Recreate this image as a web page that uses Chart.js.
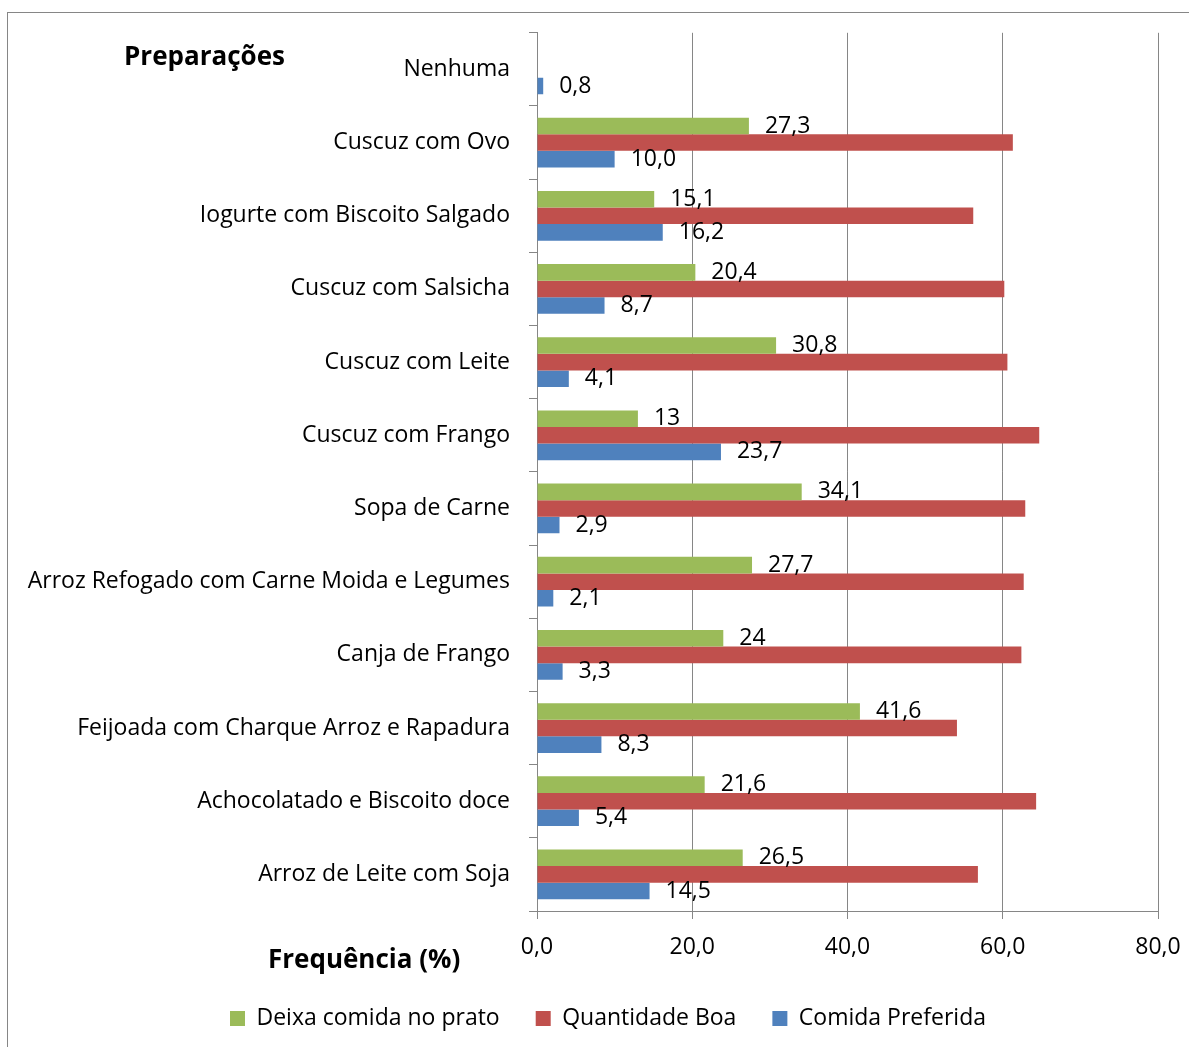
<!DOCTYPE html>
<html><head><meta charset="utf-8">
<script src="https://cdn.jsdelivr.net/npm/chart.js@4/dist/chart.umd.min.js"></script>
<style>
html,body{margin:0;padding:0;background:#fff;overflow:hidden}
#wrap{position:relative;width:1189px;height:1047px;overflow:hidden}
#frame{position:absolute;left:7px;top:12px;width:1300px;height:1200px;border:1px solid #868686;box-sizing:border-box}
canvas{position:absolute;left:0;top:0}
.t{position:absolute;font-family:'Open Sans';font-weight:bold;font-size:26px;line-height:36px;color:#000;white-space:nowrap}
</style></head>
<body><div id="wrap"><div id="frame"></div><canvas id="c" width="1189" height="1047"></canvas>
<div class="t" style="left:124px;top:37px">Preparações</div>
<div class="t" style="left:268px;top:940px">Frequência (%)</div>
</div>
<script>
const categories = [
  'Nenhuma',
  'Cuscuz com Ovo',
  'Iogurte com Biscoito Salgado',
  'Cuscuz com Salsicha',
  'Cuscuz com Leite',
  'Cuscuz com Frango',
  'Sopa de Carne',
  'Arroz Refogado com Carne Moida e Legumes',
  'Canja de Frango',
  'Feijoada com Charque Arroz e Rapadura',
  'Achocolatado e Biscoito doce',
  'Arroz de Leite com Soja'
];
const deixaComida     = [null, 27.3, 15.1, 20.4, 30.8, 13, 34.1, 27.7, 24, 41.6, 21.6, 26.5];
const quantidadeBoa   = [null, 61.3, 56.2, 60.2, 60.6, 64.7, 62.9, 62.7, 62.4, 54.1, 64.3, 56.8];
const comidaPreferida = [0.8, 10.0, 16.2, 8.7, 4.1, 23.7, 2.9, 2.1, 3.3, 8.3, 5.4, 14.5];
const xTicks = [0, 20, 40, 60, 80];
const seriesNames = ['Deixa comida no prato', 'Quantidade Boa', 'Comida Preferida'];

const FONT = 'Open Sans';
const FS = 23;

const valueLabels = {
  id: 'valueLabels',
  afterDatasetsDraw(chart) {
    const ctx = chart.ctx;
    ctx.save();
    ctx.font = FS + 'px "' + FONT + '"';
    ctx.fillStyle = '#000';
    ctx.textBaseline = 'middle';
    ctx.textAlign = 'left';
    chart.data.datasets.forEach((ds, i) => {
      if (!ds.fmt) return;
      chart.getDatasetMeta(i).data.forEach((el, j) => {
        const v = ds.data[j];
        if (v == null) return;
        ctx.fillText(ds.fmt(v), el.x + 16, el.y);
      });
    });
    ctx.restore();
  }
};

function draw() {
  new Chart(document.getElementById('c'), {
    type: 'bar',
    data: {
      labels: categories,
      datasets: [
        { label: seriesNames[0], data: deixaComida, backgroundColor: '#9BBB59',
          fmt: v => String(v).replace('.', ',') },
        { label: seriesNames[1], data: quantidadeBoa, backgroundColor: '#C0504D' },
        { label: seriesNames[2], data: comidaPreferida, backgroundColor: '#4F81BD',
          fmt: v => v.toFixed(1).replace('.', ',') }
      ]
    },
    options: {
      indexAxis: 'y',
      responsive: false,
      animation: false,
      devicePixelRatio: 1,
      datasets: { bar: { categoryPercentage: 0.68, barPercentage: 1.0, borderWidth: 0 } },
      layout: { padding: { top: 32, right: 0, left: 27, bottom: 7 } },
      scales: {
        x: {
          min: 0, max: 80,
          afterBuildTicks: s => { s.ticks = xTicks.map(v => ({ value: v })); },
          afterFit: s => { s.height = 60; s.paddingRight = 31; },
          ticks: { color: '#000', font: { family: FONT, size: FS }, padding: 15,
                   callback: v => Number(v).toFixed(1).replace('.', ',') },
          grid: { color: '#868686', lineWidth: 1, tickLength: 8, drawOnChartArea: true },
          border: { color: '#868686', width: 1 }
        },
        y: {
          afterFit: s => { s.width = 510; },
          ticks: { color: '#000', font: { family: FONT, size: FS }, padding: 19 },
          grid: { color: '#868686', drawOnChartArea: false, tickLength: 8, offset: true },
          border: { color: '#868686', width: 1 }
        }
      },
      plugins: {
        legend: {
          position: 'bottom',
          labels: { color: '#000', font: { family: FONT, size: FS }, boxWidth: 15, boxHeight: 15, padding: 36 }
        },
        tooltip: { enabled: false }
      }
    },
    plugins: [valueLabels]
  });
}
document.fonts.load(FS + 'px "' + FONT + '"').then(draw, draw);
</script>
</body></html>
